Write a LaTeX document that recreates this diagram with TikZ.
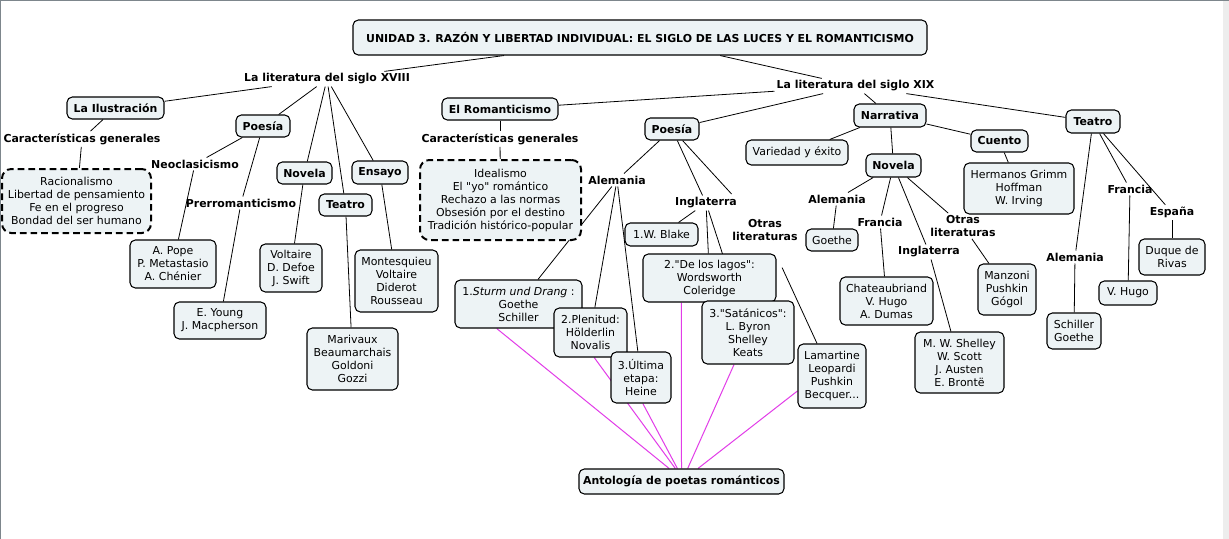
\documentclass[tikz,border=0pt]{standalone}
\usepackage{fontspec}
\setmainfont{DejaVu Sans}[Ligatures=TeXOff]
\usetikzlibrary{calc}
\definecolor{boxfill}{HTML}{EDF3F5}
\definecolor{pinkln}{HTML}{E23CE8}
\definecolor{framegray}{HTML}{7D868C}
\definecolor{stripgray}{HTML}{EDEDED}
\pgfdeclarelayer{background}
\pgfsetlayers{background,main}
\tikzset{
 box/.style={draw=black, line width=0.8pt, fill=boxfill, rounded corners=4pt, align=center, inner xsep=2pt, inner ysep=1pt, font=\fontsize{8.2}{9.75}\selectfont},
 bbox/.style={box, font=\fontsize{8.2}{9.75}\selectfont\bfseries},
 dbox/.style={box, dash pattern=on 5pt off 3pt, line width=1.5pt, rounded corners=7pt},
 lbl/.style={align=center, inner sep=1.5pt, font=\fontsize{8.2}{9.75}\selectfont\bfseries},
 sz/.style 2 args={minimum width=#1*0.75pt, minimum height=#2*0.75pt},
 ln/.style={draw=black, line width=0.6pt},
 pk/.style={draw=pinkln, line width=0.75pt},
}
\begin{document}
\begin{tikzpicture}[x=0.75pt,y=-0.75pt]
\useasboundingbox (0,0) rectangle (1229,539);

% ---- concepts
\node[bbox, sz={574}{35}] (title) at (640,37.5) {UNIDAD 3. RAZÓN Y LIBERTAD INDIVIDUAL: EL SIGLO DE LAS LUCES Y EL ROMANTICISMO};
\node[lbl] (lXVIII) at (327,79) {La literatura del siglo XVIII};
\node[lbl] (lXIX) at (855.5,86) {La literatura del siglo XIX};

\node[bbox, sz={97}{22}] (ilus) at (115.5,108) {La Ilustración};
\node[lbl] (carac1) at (82,139) {Características generales};
\node[dbox, sz={149}{64}] (dash1) at (76.5,201) {Racionalismo\\Libertad de pensamiento\\Fe en el progreso\\Bondad del ser humano};
\node[bbox, sz={54}{22}] (poesia1) at (263,126) {Poesía};
\node[lbl] (neo) at (195,164) {Neoclasicismo};
\node[lbl] (prerro) at (241,203) {Prerromanticismo};
\node[box, sz={86}{48}] (pope) at (173,264) {A. Pope\\P. Metastasio\\A. Chénier};
\node[box, sz={92}{37}] (young) at (220,320.5) {E. Young\\J. Macpherson};
\node[bbox, sz={55}{22}] (novela1) at (304.5,173) {Novela};
\node[bbox, sz={53}{22}] (teatro1) at (345.5,205) {Teatro};
\node[bbox, sz={56}{23}] (ensayo) at (380,172.5) {Ensayo};
\node[box, sz={62}{48}] (voltaire) at (291,268) {Voltaire\\D. Defoe\\J. Swift};
\node[box, sz={83}{62}] (montes) at (396.5,281) {Montesquieu\\Voltaire\\Diderot\\Rousseau};
\node[box, sz={91}{62}] (mariv) at (352.5,359) {Marivaux\\Beaumarchais\\Goldoni\\Gozzi};

\node[bbox, sz={116}{22}] (roman) at (500,109) {El Romanticismo};
\node[lbl] (carac2) at (500,139) {Características generales};
\node[dbox, sz={161}{80}] (dash2) at (500.5,200) {Idealismo\\El "yo" romántico\\Rechazo a las normas\\Obsesión por el destino\\Tradición histórico-popular};
\node[bbox, sz={54}{22}] (poesia2) at (672,129) {Poesía};
\node[lbl] (alem1) at (617,180) {Alemania};
\node[lbl] (ingl1) at (706,203) {Inglaterra};
\node[lbl] (otras1) at (765,230.5) {Otras\\literaturas};
\node[box, sz={73}{23}] (blake) at (661.5,234.5) {1.W. Blake};
\node[box, sz={127}{48}] (sturm) at (518.5,304) {1.\textit{Sturm und Drang} :\\Goethe\\Schiller};
\node[box, sz={73}{49}] (plenitud) at (590.5,332.5) {2.Plenitud:\\Hölderlin\\Novalis};
\node[box, sz={60}{51}] (ultima) at (641,377.5) {3.Última\\etapa:\\Heine};
\node[box, sz={133}{48}] (lagos) at (709.5,278) {2."De los lagos":\\Wordsworth\\Coleridge};
\node[box, sz={92}{63}] (satan) at (748,332.5) {3."Satánicos":\\L. Byron\\Shelley\\Keats};
\node[box, sz={68}{64}] (lamart) at (832,376) {Lamartine\\Leopardi\\Pushkin\\Becquer...};
\node[bbox, sz={205}{25}] (antol) at (681.5,481.5) {Antología de poetas románticos};

\node[bbox, sz={72}{23}] (narr) at (890,115.5) {Narrativa};
\node[bbox, sz={54}{23}] (teatro2) at (1093,121.5) {Teatro};
\node[bbox, sz={57}{22}] (cuento) at (999.5,141) {Cuento};
\node[box, sz={102}{25}] (variedad) at (797,152.5) {Variedad y éxito};
\node[bbox, sz={55}{23}] (novela2) at (893.5,165.5) {Novela};
\node[box, sz={110}{51}] (grimm) at (1019,188.5) {Hermanos Grimm\\Hoffman\\W. Irving};
\node[lbl] (alem2) at (837,199) {Alemania};
\node[lbl] (fran2) at (880,222) {Francia};
\node[lbl] (ingl2) at (929,252) {Inglaterra};
\node[lbl] (otras2) at (963,226) {Otras\\literaturas};
\node[box, sz={52}{22}] (goethe) at (832,240) {Goethe};
\node[box, sz={93}{48}] (chat) at (886.5,301) {Chateaubriand\\V. Hugo\\A. Dumas};
\node[box, sz={89}{61}] (shelley) at (959.5,362.5) {M. W. Shelley\\W. Scott\\J. Austen\\E. Brontë};
\node[box, sz={58}{51}] (manzoni) at (1007,289.5) {Manzoni\\Pushkin\\Gógol};
\node[lbl] (fran3) at (1130,189) {Francia};
\node[lbl] (esp3) at (1172,212.5) {España};
\node[lbl] (alem3) at (1075,257) {Alemania};
\node[box, sz={66}{36}] (duque) at (1172,257) {Duque de\\Rivas};
\node[box, sz={58}{24}] (vhugo) at (1128,293) {V. Hugo};
\node[box, sz={54}{36}] (schiller) at (1074,331) {Schiller\\Goethe};

% ---- frame and connectors (behind the boxes)
\begin{pgfonlayer}{background}
\fill[white] (0,0) rectangle (1229,539);
\fill[stripgray] (1223,1.5) rectangle (1229,539);
\fill[framegray] (0,0) rectangle (1229,1.5);
\fill[framegray] (0,0) rectangle (1.5,539);

\draw[ln] (title) -- (lXVIII);
\draw[ln] (title) -- (lXIX);
\draw[ln] (lXVIII) -- (ilus);
\draw[ln] (lXVIII) -- (poesia1);
\draw[ln] (lXVIII) -- (novela1);
\draw[ln] (lXVIII) -- (teatro1);
\draw[ln] (lXVIII) -- (ensayo);
\draw[ln] (ilus) -- (carac1);
\draw[ln] (carac1) -- (dash1);
\draw[ln] (poesia1) -- (neo);
\draw[ln] (neo) -- (pope);
\draw[ln] (poesia1) -- (prerro);
\draw[ln] (prerro) -- (young);
\draw[ln] (novela1) -- (voltaire);
\draw[ln] (teatro1) -- (mariv);
\draw[ln] (ensayo) -- (montes);

\draw[ln] (lXIX) -- (roman);
\draw[ln] (lXIX) -- (poesia2);
\draw[ln] (lXIX) -- (narr);
\draw[ln] (lXIX) -- (teatro2);
\draw[ln] (roman) -- (carac2);
\draw[ln] (carac2) -- (dash2);
\draw[ln] (poesia2) -- (alem1);
\draw[ln] (poesia2) -- (ingl1);
\draw[ln, shorten >=24pt] (poesia2) -- (otras1);
\draw[ln] (alem1) -- (sturm);
\draw[ln] (alem1) -- (plenitud);
\draw[ln] (alem1) -- (ultima);
\draw[ln] (ingl1) -- (blake);
\draw[ln] (ingl1) -- (lagos);
\draw[ln] (ingl1) -- (satan);
\draw[ln, shorten <=20pt] (otras1) -- (lamart);

\draw[pk] ($(sturm.south west)!0.33!(sturm.south east)$) -- ($(antol.north west)!0.44!(antol.north east)$);
\draw[pk] ($(plenitud.south west)!0.55!(plenitud.south east)$) -- ($(antol.north west)!0.47!(antol.north east)$);
\draw[pk] ($(ultima.south west)!0.53!(ultima.south east)$) -- ($(antol.north west)!0.48!(antol.north east)$);
\draw[pk] ($(lagos.south west)!0.29!(lagos.south east)$) -- ($(antol.north west)!0.50!(antol.north east)$);
\draw[pk] ($(satan.south west)!0.35!(satan.south east)$) -- ($(antol.north west)!0.53!(antol.north east)$);
\draw[pk] ($(lamart.north west)!0.73!(lamart.south west)$) -- ($(antol.north west)!0.58!(antol.north east)$);

\draw[ln] (narr) -- (variedad);
\draw[ln] (narr) -- (novela2);
\draw[ln] (narr) -- (cuento);
\draw[ln] (cuento) -- (grimm);
\draw[ln] (novela2) -- (alem2);
\draw[ln] (alem2) -- (goethe);
\draw[ln] (novela2) -- (fran2);
\draw[ln] (fran2) -- (chat);
\draw[ln] (novela2) -- (ingl2);
\draw[ln] (ingl2) -- (shelley);
\draw[ln] (novela2) -- (otras2);
\draw[ln] (otras2) -- (manzoni);
\draw[ln] (teatro2) -- (alem3);
\draw[ln] (alem3) -- (schiller);
\draw[ln] (teatro2) -- (fran3);
\draw[ln] (fran3) -- (vhugo);
\draw[ln] (teatro2) -- (esp3);
\draw[ln] (esp3) -- (duque);
\end{pgfonlayer}
\end{tikzpicture}
\end{document}
